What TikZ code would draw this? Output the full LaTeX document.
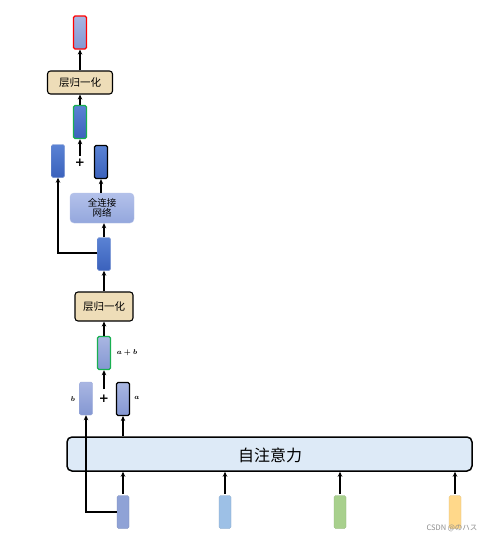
\documentclass[tikz,border=0pt]{standalone}
\usepackage{fontspec}
\newfontfamily\cjk{Noto Sans CJK SC}
\newfontfamily\jp{Noto Sans CJK JP}
\newfontfamily\dv{DejaVu Sans}
\usetikzlibrary{arrows.meta,shadings}
\definecolor{vecA}{HTML}{A9B6E2}
\definecolor{vecB}{HTML}{8497D2}
\definecolor{dkA}{HTML}{5B82D4}
\definecolor{dkB}{HTML}{3A62BC}
\definecolor{lnfill}{HTML}{EEDDB8}
\definecolor{ffnA}{HTML}{B3C1EA}
\definecolor{ffnB}{HTML}{94A7DD}
\definecolor{safill}{HTML}{DDEAF7}
\definecolor{inblue}{HTML}{9DC0E6}
\definecolor{ingreen}{HTML}{A8D08D}
\definecolor{inyellow}{HTML}{FFD88A}
\definecolor{inpurple}{HTML}{8FA2D6}
\definecolor{grn}{HTML}{18B050}
\tikzset{
  x=1pt,y=-1pt,
  vec/.style={rectangle,rounded corners=1.5pt,minimum width=13pt,minimum height=33pt,inner sep=0pt,draw=vecB!80,line width=0.4pt,top color=vecA,bottom color=vecB},
  dvec/.style={rectangle,rounded corners=1.5pt,minimum width=13pt,minimum height=33pt,inner sep=0pt,draw=dkB!70,line width=0.4pt,top color=dkA,bottom color=dkB},
  invec/.style={rectangle,rounded corners=1.5pt,minimum width=12pt,minimum height=33pt,inner sep=0pt,draw=#1!85!black,line width=0.3pt,fill=#1},
  lnbox/.style={rectangle,rounded corners=3pt,draw=black,line width=1.1pt,fill=lnfill,inner sep=0pt,font=\cjk\fontsize{10.5}{12}\selectfont},
  arr/.style={-{Stealth[length=5pt,width=4.5pt]},line width=2.1pt},
  lbl/.style={font=\fontsize{7}{8}\selectfont\boldmath,inner sep=0pt},
  plus/.style={font=\dv\bfseries\fontsize{12}{12}\selectfont,inner sep=0pt}
}
\begin{document}
\begin{tikzpicture}
\useasboundingbox (0,0) rectangle (497,541);
% self-attention block
\node[rectangle,rounded corners=5pt,draw=black,line width=1.5pt,fill=safill,minimum width=405pt,minimum height=34pt,inner sep=0pt] (sa) at (269.5,454) {};
\node[font=\cjk\fontsize{16}{18}\selectfont] (satxt) at (270,455) {自注意力};
% inputs
\node[invec=inpurple] (x1) at (123,512) {};
\node[invec=inblue] (x2) at (225,512) {};
\node[invec=ingreen] (x3) at (340,512) {};
\node[invec=inyellow] (x4) at (455,512) {};
\draw[arr] (x1.north |- 0,494) -- (x1.north |- sa.south);
\draw[arr] (x2.north |- 0,494) -- (x2.north |- sa.south);
\draw[arr] (x3.north |- 0,494) -- (x3.north |- sa.south);
\draw[arr] (x4.north |- 0,494) -- (x4.north |- sa.south);
% a, b
\node[vec] (b) at (86,398.5) {};
\node[vec,draw=black,line width=1.1pt] (a) at (123,399) {};
\node[lbl] (bl) at (73,399) {$b$};
\node[lbl] (al) at (137,398) {$a$};
\node[plus] (p1) at (104,399) {+};
\draw[arr] (a.south |- sa.north) -- (a.south);
\draw[arr] (x1.west) -- (86,512) -- (b.south);
% a+b
\node[vec,draw=grn,line width=1.4pt] (s1) at (104,353) {};
\node[lbl] (sl) at (127,353) {$a+b$};
\draw[arr] (p1.north |- 0,389) -- (s1.south);
% LN lower
\node[lnbox,minimum width=58pt,minimum height=29pt] (ln1) at (104,306.5) {层归一化};
\draw[arr] (s1.north) -- (s1.north |- ln1.south);
% mid vector
\node[dvec] (m) at (104,254) {};
\draw[arr] (m.south |- ln1.north) -- (m.south);
% FFN
\node[rectangle,rounded corners=4pt,draw=ffnB!70,line width=0.4pt,top color=ffnA,bottom color=ffnB,minimum width=64pt,minimum height=30pt,inner sep=0pt,align=center,font=\cjk\fontsize{9.5}{10.5}\selectfont] (ffn) at (102,208) {全连接\\网络};
\draw[arr] (m.north) -- (m.north |- ffn.south);
% upper pair
\node[dvec] (l2) at (58,161) {};
\node[dvec,draw=black,line width=1.3pt] (r2) at (101,162) {};
\node[plus] (p2) at (80,163) {+};
\draw[arr] (r2.south |- ffn.north) -- (r2.south);
\draw[arr] (m.west |- 0,253) -- (l2.south |- 0,253) -- (l2.south);
% green upper
\node[dvec,draw=grn,line width=1.4pt] (s2) at (80,122) {};
\draw[arr] (p2.north |- 0,156) -- (s2.south);
% LN upper
\node[lnbox,minimum width=65pt,minimum height=23pt] (ln2) at (80,82.5) {层归一化};
\draw[arr] (s2.north) -- (s2.north |- ln2.south);
% output
\node[vec,draw=red,line width=1.1pt] (o) at (80,32.5) {};
\draw[arr] (o.south |- ln2.north) -- (o.south);
% watermark
\node[font=\jp\fontsize{7.5}{8}\selectfont,text=black!45,inner sep=0pt] (wm) at (452,528) {CSDN @のハス};
\end{tikzpicture}
\end{document}
